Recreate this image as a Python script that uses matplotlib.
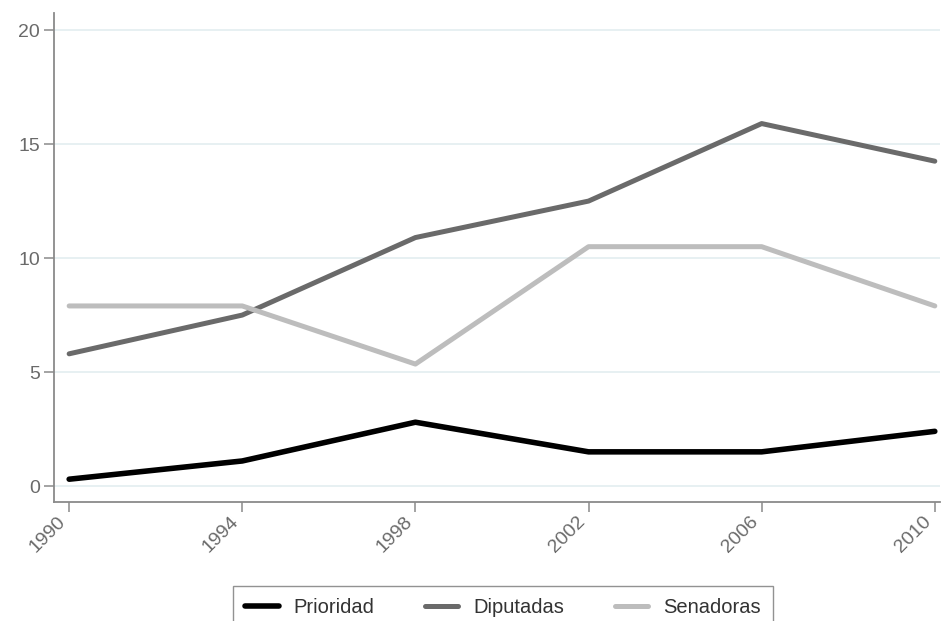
import matplotlib
matplotlib.use("Agg")
import matplotlib.pyplot as plt

years = [1990, 1994, 1998, 2002, 2006, 2010]
prioridad = [0.3, 1.1, 2.8, 1.5, 1.5, 2.4]
diputadas = [5.8, 7.5, 10.9, 12.5, 15.9, 14.25]
senadoras = [7.9, 7.9, 5.35, 10.5, 10.5, 7.9]
yticks = [0, 5, 10, 15, 20]

plt.rcParams['font.family'] = ['Liberation Sans', 'DejaVu Sans']

fig = plt.figure(figsize=(9.44, 6.21), dpi=100)
ax = fig.add_axes([54/944, 1-502/621, (940-54)/944, (502-13)/621])

ax.plot(years, prioridad, color='#000000', lw=4.0, solid_capstyle='round', label='Prioridad', zorder=3)
ax.plot(years, diputadas, color='#6a6a6a', lw=3.6, solid_capstyle='round', label='Diputadas', zorder=3)
ax.plot(years, senadoras, color='#bdbdbd', lw=3.6, solid_capstyle='round', label='Senadoras', zorder=3)

ax.set_xlim(1989.65, 2010.12)
ax.set_ylim(-0.7, 20.75)
ax.set_yticks(yticks)
ax.set_xticks(years)
ax.set_xticklabels([str(y) for y in years], rotation=45, ha='right', rotation_mode='default')
for y in yticks:
    ax.axhline(y, color='#e3edf0', lw=1.2, zorder=1)

for s in ['top', 'right']:
    ax.spines[s].set_visible(False)
for s in ['left', 'bottom']:
    ax.spines[s].set_color('#8a8a8a')
    ax.spines[s].set_linewidth(1.3)
ax.tick_params(axis='both', colors='#8a8a8a', labelcolor='#6a6a6a', labelsize=14, length=7, width=1.1, pad=3)
ax.tick_params(axis='x', pad=1)

leg = fig.legend(loc='upper center', bbox_to_anchor=(503/944, 1-576/621), ncol=3,
                 frameon=True, fancybox=False, fontsize=14.5, handlelength=1.65,
                 handletextpad=0.75, columnspacing=2.5, borderpad=0.6,
                 edgecolor='#777777')
leg.get_frame().set_linewidth(1.0)
for t in leg.get_texts():
    t.set_color('#333333')

fig.savefig('out.png', dpi=100)
